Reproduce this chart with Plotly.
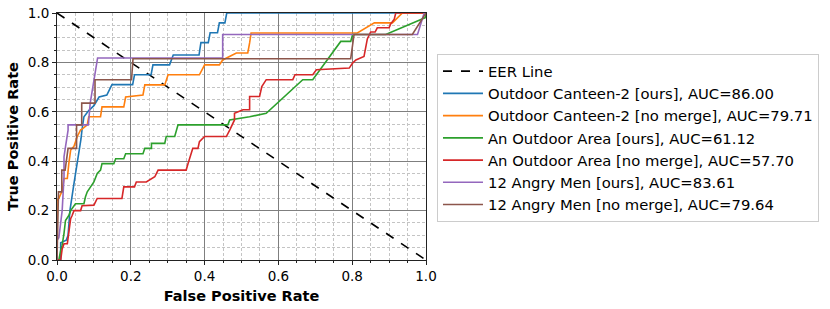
import plotly.graph_objects as go

# EER line
eer_x = [0.0, 1.0]
eer_y = [1.0, 0.0]

# Outdoor Canteen-2 [ours]
oc_ours_fpr = [0, 0.01, 0.01, 0.025, 0.03, 0.035, 0.045, 0.055, 0.065, 0.068, 0.073, 0.086, 0.1, 0.114, 0.135,
               0.149, 0.205, 0.21, 0.255, 0.26, 0.305, 0.315, 0.385, 0.39, 0.41, 0.415, 0.435, 0.44, 0.455, 0.46, 1.0]
oc_ours_tpr = [0, 0, 0.07, 0.08, 0.1, 0.2, 0.3, 0.39, 0.49, 0.53, 0.58, 0.605, 0.625, 0.66, 0.668,
               0.71, 0.71, 0.75, 0.75, 0.79, 0.79, 0.83, 0.83, 0.88, 0.88, 0.92, 0.92, 0.96, 0.96, 1.0, 1.0]

# Outdoor Canteen-2 [no merge]
oc_nm_fpr = [0, 0, 0.005, 0.014, 0.019, 0.028, 0.032, 0.037, 0.046, 0.055, 0.064, 0.068, 0.082, 0.086, 0.118,
             0.122, 0.181, 0.186, 0.233, 0.238, 0.292, 0.301, 0.386, 0.4, 0.44, 0.449, 0.486, 0.517, 0.522,
             0.526, 0.814, 0.86, 0.909, 0.936, 1.0]
oc_nm_tpr = [0, 0.24, 0.25, 0.28, 0.33, 0.33, 0.39, 0.445, 0.46, 0.5, 0.527, 0.53, 0.547, 0.58, 0.58,
             0.62, 0.62, 0.66, 0.668, 0.709, 0.709, 0.75, 0.75, 0.79, 0.79, 0.81, 0.838, 0.838, 0.879,
             0.919, 0.919, 0.96, 0.96, 1.0, 1.0]

# An Outdoor Area [ours]
oa_ours_fpr = [0, 0.005, 0.01, 0.014, 0.019, 0.023, 0.032, 0.037, 0.05, 0.073, 0.077, 0.082, 0.091, 0.1, 0.109,
               0.118, 0.122, 0.154, 0.159, 0.181, 0.186, 0.233, 0.238, 0.256, 0.256, 0.292, 0.296, 0.319,
               0.328, 0.463, 0.468, 0.499, 0.522, 0.567, 0.666, 0.693, 0.769, 0.796, 0.801, 0.891, 0.999, 1.0]
oa_ours_tpr = [0, 0, 0.039, 0.06, 0.108, 0.16, 0.18, 0.2, 0.228, 0.228, 0.255, 0.276, 0.296, 0.316, 0.35,
               0.364, 0.39, 0.39, 0.41, 0.41, 0.43, 0.43, 0.452, 0.452, 0.472, 0.472, 0.5, 0.5,
               0.547, 0.547, 0.567, 0.574, 0.58, 0.594, 0.73, 0.73, 0.885, 0.885, 0.913, 0.913, 0.982, 1.0]

# An Outdoor Area [no merge]
oa_nm_fpr = [0, 0.01, 0.014, 0.019, 0.028, 0.032, 0.037, 0.041, 0.046, 0.064, 0.068, 0.1, 0.109, 0.176, 0.181,
             0.21, 0.215, 0.242, 0.265, 0.274, 0.35, 0.355, 0.359, 0.368, 0.382, 0.386, 0.4, 0.459, 0.468,
             0.481, 0.481, 0.504, 0.522, 0.522, 0.549, 0.555, 0.567, 0.639, 0.645, 0.693, 0.703, 0.792,
             0.801, 0.81, 0.832, 0.841, 0.85, 0.862, 0.868, 0.9, 0.904, 0.914, 0.918, 1.0]
oa_nm_tpr = [0, 0, 0.045, 0.066, 0.066, 0.12, 0.167, 0.18, 0.2, 0.2, 0.22, 0.222, 0.249, 0.249, 0.296,
             0.296, 0.316, 0.316, 0.337, 0.364, 0.364, 0.39, 0.41, 0.452, 0.452, 0.479, 0.5, 0.5, 0.526,
             0.567, 0.594, 0.608, 0.608, 0.662, 0.662, 0.702, 0.73, 0.73, 0.75, 0.75, 0.77, 0.777,
             0.797, 0.81, 0.824, 0.895, 0.923, 0.923, 0.94, 0.94, 0.955, 0.975, 1.0, 1.0]

# 12 Angry Men [ours]
am_ours_fpr = [0, 0, 0.005, 0.01, 0.014, 0.019, 0.019, 0.023, 0.03, 0.03, 0.085, 0.09, 0.1, 0.11, 0.449, 0.449,
               0.977, 0.995, 1.0]
am_ours_tpr = [0, 0.08, 0.09, 0.147, 0.2, 0.337, 0.418, 0.458, 0.526, 0.547, 0.547, 0.635, 0.73, 0.818, 0.818,
               0.913, 0.913, 1.0, 1.0]

# 12 Angry Men [no merge]
am_nm_fpr = [0, 0.002, 0.004, 0.013, 0.013, 0.022, 0.03, 0.053, 0.053, 0.067, 0.067, 0.103, 0.103, 0.202, 0.206,
             0.796, 0.805, 0.963, 0.999, 1.0]
am_nm_tpr = [0, 0.1, 0.276, 0.276, 0.364, 0.364, 0.452, 0.452, 0.547, 0.547, 0.635, 0.635, 0.73, 0.73, 0.815,
             0.815, 0.913, 0.913, 1.0, 1.0]

labels = ["EER Line",
          "Outdoor Canteen-2 [ours], AUC=86.00",
          "Outdoor Canteen-2 [no merge], AUC=79.71",
          "An Outdoor Area [ours], AUC=61.12",
          "An Outdoor Area [no merge], AUC=57.70",
          "12 Angry Men [ours], AUC=83.61",
          "12 Angry Men [no merge], AUC=79.64"]
colors = ["#000000", "#1f77b4", "#ff7f0e", "#2ca02c", "#d62728", "#9467bd", "#8c564b"]

series = [(eer_x, eer_y), (oc_ours_fpr, oc_ours_tpr), (oc_nm_fpr, oc_nm_tpr), (oa_ours_fpr, oa_ours_tpr),
          (oa_nm_fpr, oa_nm_tpr), (am_ours_fpr, am_ours_tpr), (am_nm_fpr, am_nm_tpr)]

fig = go.Figure()
for i, ((xs, ys), name, c) in enumerate(zip(series, labels, colors)):
    fig.add_trace(go.Scatter(
        x=xs, y=ys, mode="lines", name=name,
        line=dict(color=c, width=1.6, dash="dash" if i == 0 else "solid"),
    ))

font_family = "DejaVu Sans"
axis_common = dict(
    range=[0, 1], dtick=0.2, tick0=0, tickformat=".1f",
    showline=True, mirror=True, linecolor="#222", linewidth=1,
    ticks="outside", ticklen=4, tickcolor="#222",
    showgrid=True, gridcolor="#7f7f7f", gridwidth=1.3,
    zeroline=False, automargin=False,
    tickfont=dict(family=font_family, size=13.5, color="black"),
    minor=dict(dtick=0.05, showgrid=True, gridcolor="#c4c4c4", griddash="3px,2px", gridwidth=1,
               ticks="outside", ticklen=2, tickcolor="#222"),
)

fig.update_layout(
    width=830, height=309,
    margin=dict(l=57, r=403, t=13, b=49),
    plot_bgcolor="white", paper_bgcolor="white",
    font=dict(family=font_family, size=13, color="black"),
    xaxis=dict(axis_common, title=dict(text="<b>False Positive Rate</b>", standoff=7,
                                       font=dict(family=font_family, size=14.5))),
    yaxis=dict(axis_common, title=dict(text="<b>True Positive Rate</b>", standoff=5,
                                       font=dict(family=font_family, size=14.5))),
    legend=dict(x=1.027, y=0.834, xanchor="left", yanchor="top",
                bordercolor="#cccccc", borderwidth=1, bgcolor="white",
                font=dict(family=font_family, size=14.8), itemwidth=40, tracegroupgap=0),
    showlegend=True,
)

# remove the default page margin so the figure sits at the window's top-left corner
fig.write_html("out.html", config={"displayModeBar": False},
               post_script="document.body.style.margin='0';")
